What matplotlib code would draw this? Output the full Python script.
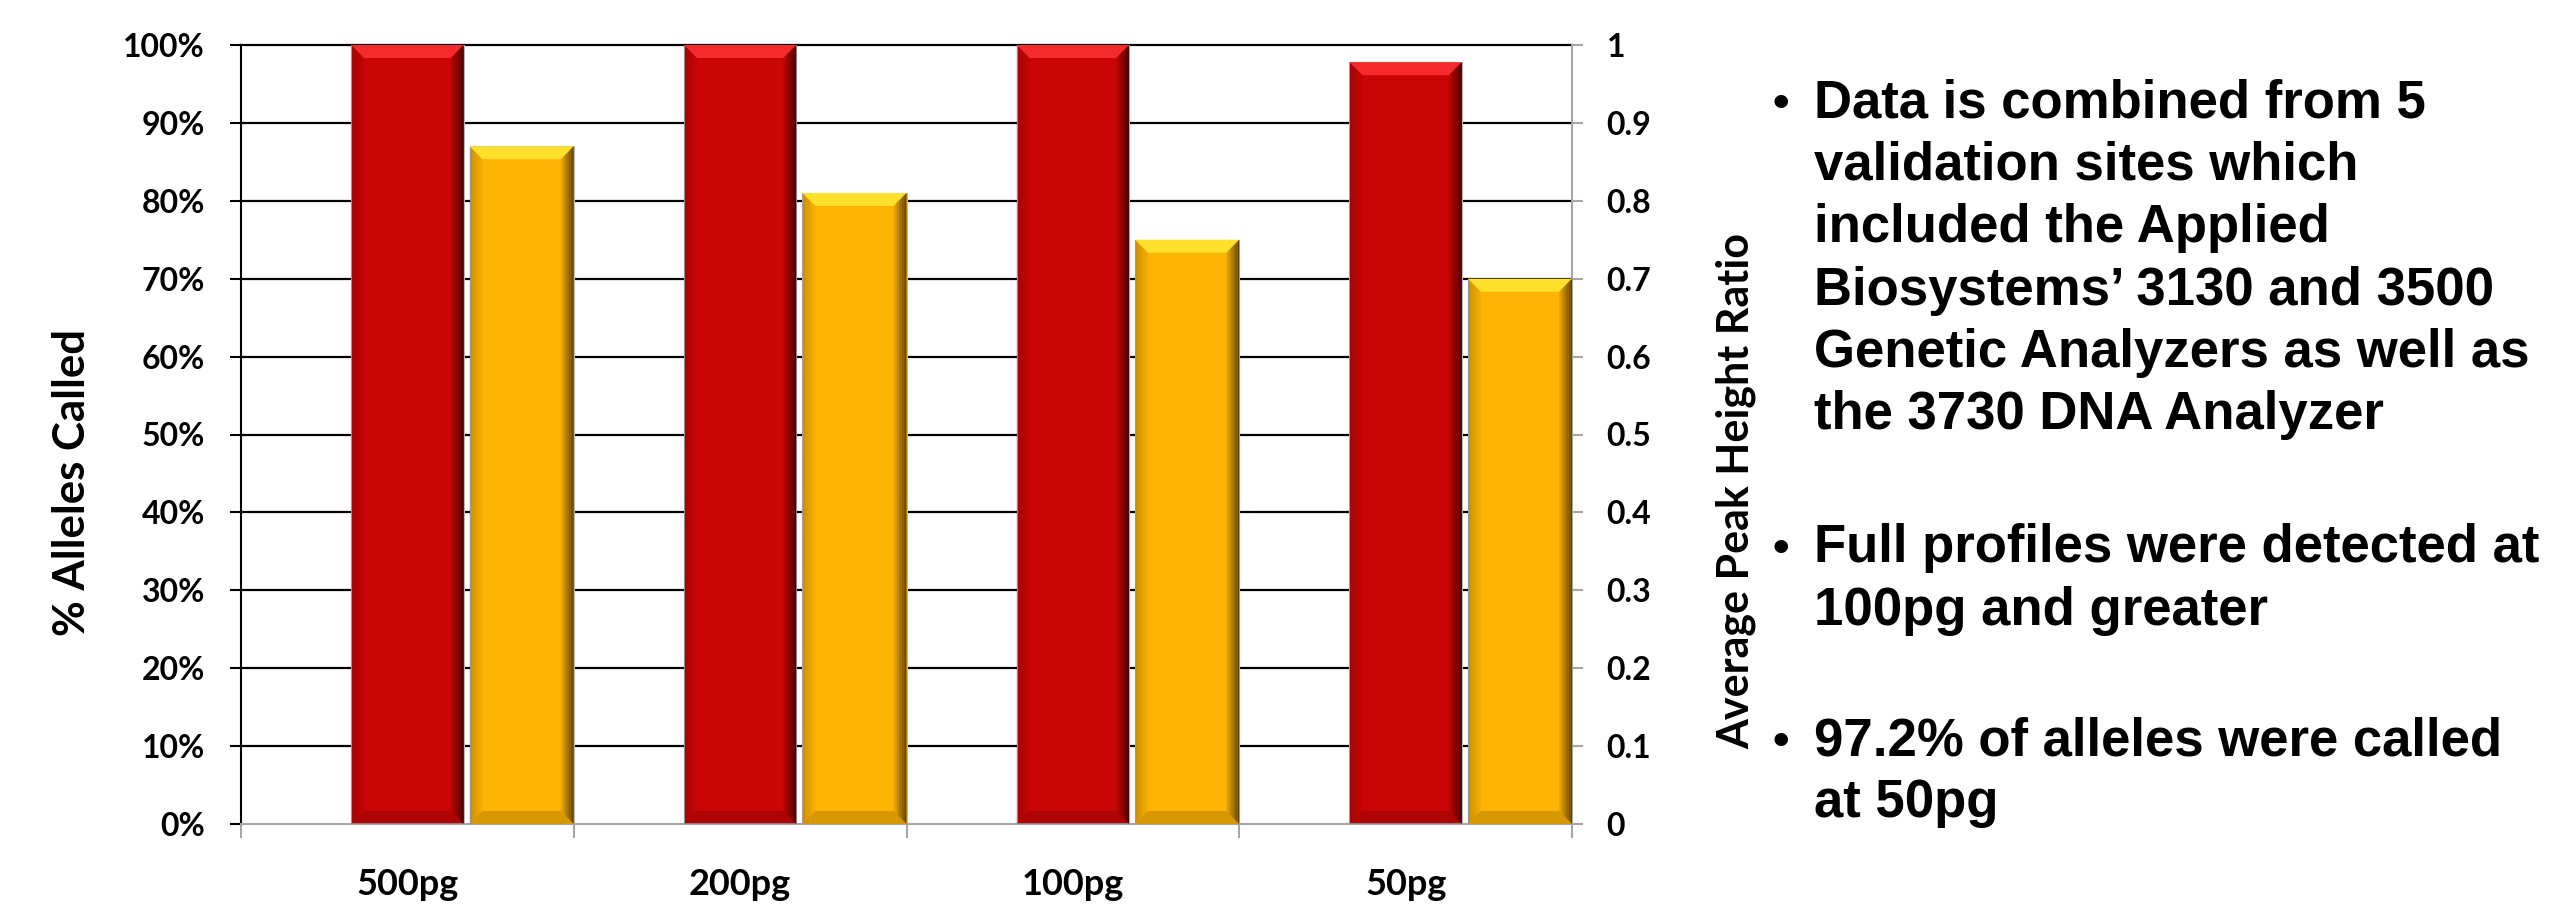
import matplotlib
matplotlib.use("Agg")
import matplotlib.pyplot as plt
import numpy as np
from matplotlib.patches import Polygon
from matplotlib.font_manager import FontProperties
from matplotlib.ticker import FuncFormatter

categories = ["500pg", "200pg", "100pg", "50pg"]
alleles_called = [100, 100, 100, 97.8]          # % alleles called (left axis)
peak_height_ratio = [0.87, 0.81, 0.75, 0.70]    # average peak height ratio (right axis)
left_ticks = [0, 10, 20, 30, 40, 50, 60, 70, 80, 90, 100]
right_ticks = [0, 0.1, 0.2, 0.3, 0.4, 0.5, 0.6, 0.7, 0.8, 0.9, 1.0]
right_tick_labels = ["0", "0.1", "0.2", "0.3", "0.4", "0.5", "0.6", "0.7", "0.8", "0.9", "1"]
bullets = [
    ["Data is combined from 5", "validation sites which", "included the Applied",
     "Biosystems\u2019 3130 and 3500", "Genetic Analyzers as well as",
     "the 3730 DNA Analyzer"],
    ["Full profiles were detected at", "100pg and greater"],
    ["97.2% of alleles were called", "at 50pg"],
]

W, H = 2551, 911
fig = plt.figure(figsize=(W / 100, H / 100), dpi=100)
ax_l, ax_r, ax_t, ax_b = 241, 1572, 45, 824
ax = fig.add_axes([ax_l / W, 1 - ax_b / H, (ax_r - ax_l) / W, (ax_b - ax_t) / H])
ax2 = ax.twinx()

x = np.arange(len(categories))
ax.set_xlim(-0.5, len(categories) - 0.5)
ax.set_ylim(0, 100)
ax2.set_ylim(0, 1)

# horizontal gridlines
for v in left_ticks[1:]:
    ax.axhline(v, color="black", lw=1.6, zorder=0.5, clip_on=False)

red_bars = ax.bar(x, alleles_called, width=0.338, color="#C90605",
                  edgecolor="#B8B8B8", linewidth=0.8, zorder=2)
yel_bars = ax2.bar(x + 0.187, peak_height_ratio, width=0.313, align="edge",
                   color="#FDB404", edgecolor="#B8B8B8", linewidth=0.8, zorder=2)


def bevel(axis, bars, ymax, light, dark, side):
    # fake the office-style bevel: light top, dark bottom, shaded right edge
    px_x = (ax_r - ax_l) / len(categories)
    px_y = (ax_b - ax_t) / ymax
    dx = 13 / px_x
    dy = 13 / px_y
    for b in bars:
        x0, w, h = b.get_x(), b.get_width(), b.get_height()
        axis.add_patch(Polygon([(x0, h), (x0 + w, h), (x0 + w - dx, h - dy), (x0 + dx, h - dy)],
                               closed=True, color=light, lw=0, zorder=3))
        axis.add_patch(Polygon([(x0, 0), (x0 + w, 0), (x0 + w - dx, dy), (x0 + dx, dy)],
                               closed=True, color=dark, lw=0, alpha=0.25, zorder=3))
        n = 8
        for i in range(n):
            xa = x0 + w - dx + dx * i / n
            xb = x0 + w - dx + dx * (i + 1) / n
            axis.add_patch(Polygon([(xa, h - dy * (1 - i / n)), (xb, h - dy * (1 - (i + 1) / n)),
                                    (xb, dy * (1 - (i + 1) / n)), (xa, dy * (1 - i / n))],
                                   closed=True, color=side, lw=0, alpha=(i + 1) / n * 0.85, zorder=3))
        for i in range(4):
            xa = x0 + dx * i / 4
            xb = x0 + dx * (i + 1) / 4
            axis.add_patch(Polygon([(xa, h - dy * i / 4), (xb, h - dy * (i + 1) / 4),
                                    (xb, dy * (i + 1) / 4), (xa, dy * i / 4)],
                                   closed=True, color=side, lw=0, alpha=(4 - i) / 4 * 0.25, zorder=3))


bevel(ax, red_bars, 100, "#F42A2C", "#5A0000", "#3A0000")
bevel(ax2, yel_bars, 1.0, "#FFE02C", "#6A4500", "#4A3000")

tick_font = FontProperties(family="Lato", weight="bold", size=23)

ax.set_yticks(left_ticks)
ax.yaxis.set_major_formatter(FuncFormatter(lambda v, p: f"{v:.0f}%"))
ax.tick_params(axis="y", direction="out", length=8, width=1.5, color="black", pad=18)
for lab in ax.get_yticklabels():
    lab.set_fontproperties(tick_font)

ax2.set_yticks(right_ticks)
ax2.set_yticklabels(right_tick_labels)
ax2.tick_params(axis="y", direction="out", length=8, width=1.5, color="#A6A6A6", pad=17)
for lab in ax2.get_yticklabels():
    lab.set_fontproperties(tick_font)

ax.set_xticks(x)
ax.set_xticklabels(categories)
ax.set_xticks(np.arange(-0.5, len(categories)), minor=True)
ax.tick_params(axis="x", which="major", length=0, pad=32)
ax.tick_params(axis="x", which="minor", length=10, width=1.5, color="#A6A6A6")
for lab in ax.get_xticklabels():
    lab.set_fontproperties(FontProperties(family="Lato", weight="bold", size=26))

for s in ["top", "right"]:
    ax.spines[s].set_visible(False)
ax.spines["left"].set_color("black")
ax.spines["left"].set_linewidth(1.5)
ax.spines["bottom"].set_color("#A6A6A6")
ax.spines["bottom"].set_linewidth(1.5)
for s in ["top", "left", "bottom"]:
    ax2.spines[s].set_visible(False)
ax2.spines["right"].set_color("#A6A6A6")
ax2.spines["right"].set_linewidth(1.5)

ax.set_ylabel("% Alleles Called", family="Lato", weight="bold", size=31.5)
ax.yaxis.set_label_coords((92 - ax_l) / (ax_r - ax_l), (ax_b - 483) / (ax_b - ax_t))
ax2.set_ylabel("Average Peak Height Ratio", family="Lato", weight="bold", size=31,
               rotation=90)
ax2.yaxis.set_label_coords((1716 - ax_l) / (ax_r - ax_l), (ax_b - 491) / (ax_b - ax_t))

# bullet text on the right
para_start = [117, 562, 755]
pitch = 62.5
for start, lines in zip(para_start, bullets):
    fig.text(1781 / W, 1 - start / H, "\u2022", family="Liberation Sans", weight="bold",
             size=34, ha="center", va="baseline")
    for i, line in enumerate(lines):
        fig.text(1814 / W, 1 - (start + i * pitch) / H, line, family="Liberation Sans",
                 weight="bold", size=38, ha="left", va="baseline")

fig.savefig("out.png", dpi=100)
